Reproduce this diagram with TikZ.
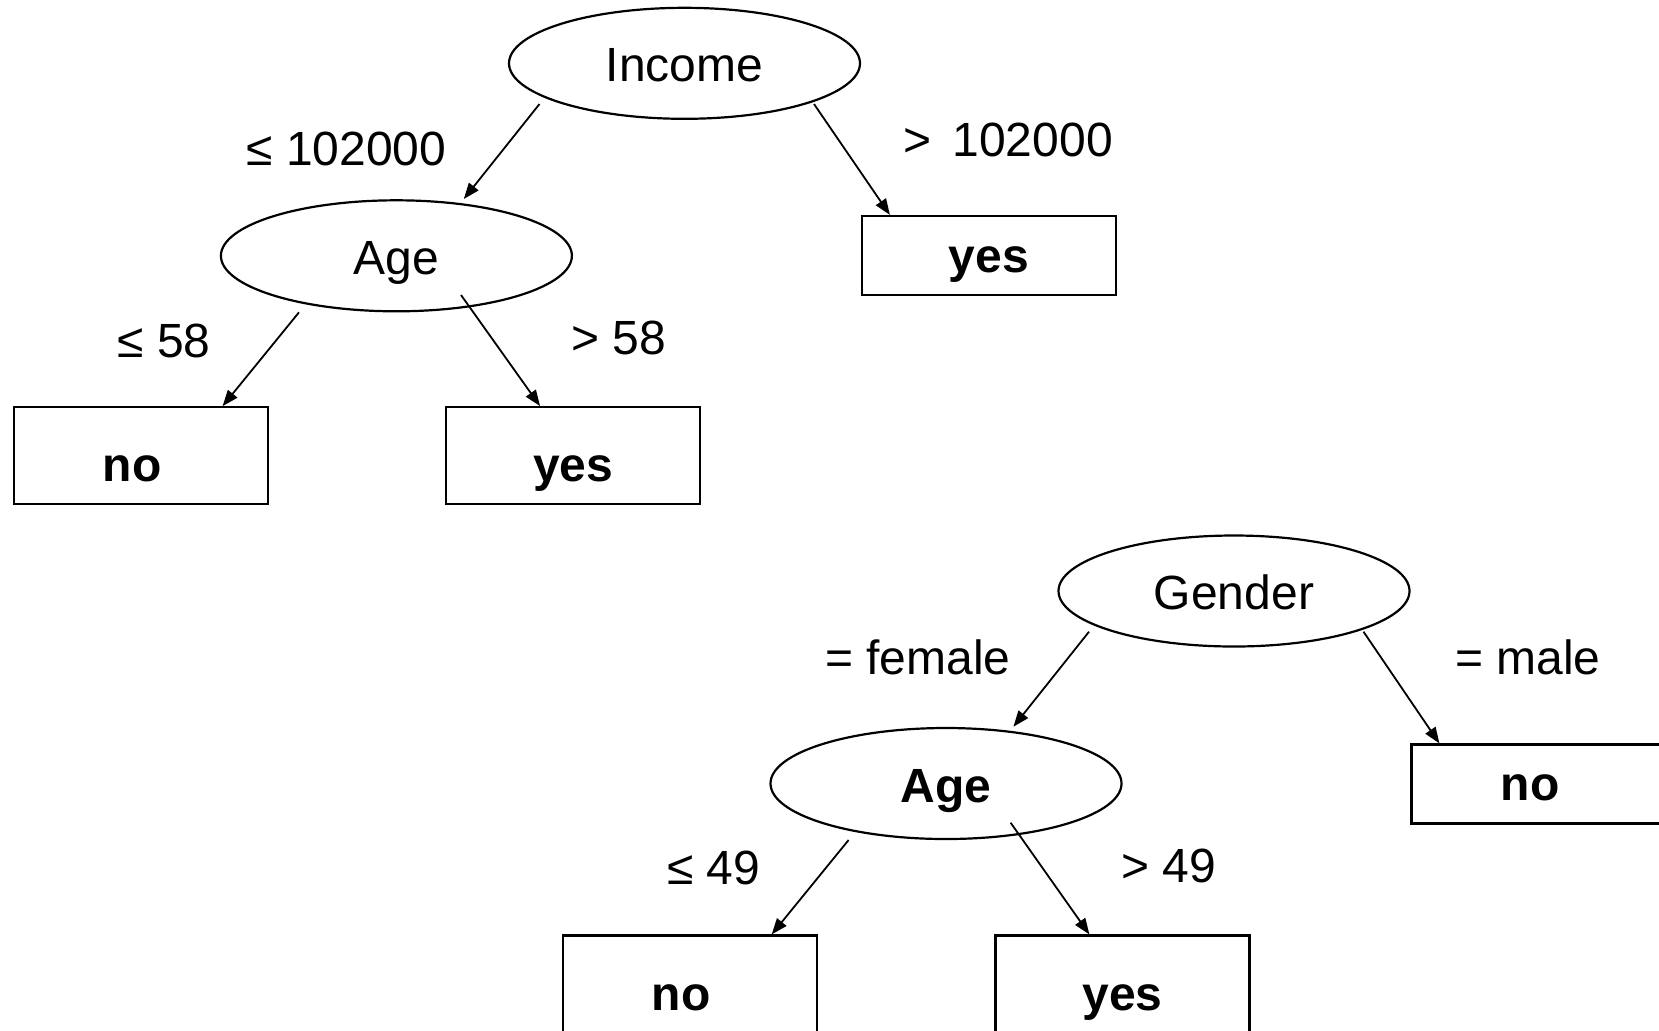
\documentclass[tikz,border=0pt]{standalone}
\usepackage{fontspec}
\setmainfont{Liberation Sans}
\usetikzlibrary{arrows.meta,shapes.geometric}
\tikzset{
  attr/.style={draw, ellipse, line width=1.1pt, minimum width=175.5pt,
               minimum height=55.5pt, inner sep=0pt,
               font=\fontsize{24}{28}\selectfont, text height=18.5pt, text depth=0pt},
  leaf/.style={draw, line width=1.1pt, minimum width=127pt, minimum height=39.5pt,
               inner sep=0pt, font=\bfseries\fontsize{24}{28}\selectfont,
               text height=16.5pt, text depth=0pt},
  tallleaf/.style={leaf, minimum height=48.5pt, text height=26pt, text depth=0pt},
  cond/.style={font=\fontsize{24}{28}\selectfont, inner sep=0pt,
               text height=17.5pt, text depth=0pt},
  flow/.style={-{Triangle[length=8pt,width=6pt]}, line width=0.9pt},
}
\newcommand{\leafno}{no\kern8.5pt}
\begin{document}
\begin{tikzpicture}[x=0.5pt, y=-0.5pt]
  \useasboundingbox (0,0) rectangle (1659,1030);
  % first tree
  \node[attr] (income) at (684.5,63.3) {Income};
  \node[attr] (age) at (396.4,255.8) {Age};
  \node[leaf] (incyes) at (989,255.5) {yes};
  \node[tallleaf] (ageno) at (140.7,455.7) {\leafno};
  \node[tallleaf] (ageyes) at (573.2,455.7) {yes};
  \node[cond] (inclow) at (346.5,147.7) {≤ 102000};
  \node[cond] (inchigh) at (1008,138.6) {>\, 102000};
  \node[cond] (agelow) at (164,339.6) {≤ 58};
  \node[cond] (agehigh) at (618.4,336.6) {> 58};

  \draw[flow] ([shift={(-145,40.7)}]income.center) -- ([shift={(67.4,-56.8)}]age.center);
  \draw[flow] ([shift={(129.5,40.7)}]income.center) -- ([shift={(29,0)}]incyes.north west);
  \draw[flow] ([shift={(-97.4,56.5)}]age.center) -- ([shift={(210,0)}]ageno.north west);
  \draw[flow] ([shift={(64.6,39.2)}]age.center) -- ([shift={(95,0)}]ageyes.north west);

  % second tree
  \node[attr] (gender) at (1234,591) {Gender};
  \node[attr, font=\bfseries\fontsize{24}{28}\selectfont] (fage) at (946,783.5) {Age};
  \node[leaf] (genno) at (1538.5,784) {\leafno};
  \node[tallleaf] (fageno) at (689.8,984) {\leafno};
  \node[tallleaf] (fageyes) at (1122.5,984) {yes};
  \node[cond] (female) at (918,656.5) {= female};
  \node[cond] (male) at (1528,656.5) {= male};
  \node[cond] (fagelow) at (713.6,867) {≤ 49};
  \node[cond] (fagehigh) at (1168.6,864.6) {> 49};

  \draw[flow] ([shift={(-145,40.7)}]gender.center) -- ([shift={(67.4,-56.8)}]fage.center);
  \draw[flow] ([shift={(129.5,40.7)}]gender.center) -- ([shift={(29,0)}]genno.north west);
  \draw[flow] ([shift={(-97.4,56.5)}]fage.center) -- ([shift={(210,0)}]fageno.north west);
  \draw[flow] ([shift={(64.6,39.2)}]fage.center) -- ([shift={(95,0)}]fageyes.north west);
\end{tikzpicture}
\end{document}
